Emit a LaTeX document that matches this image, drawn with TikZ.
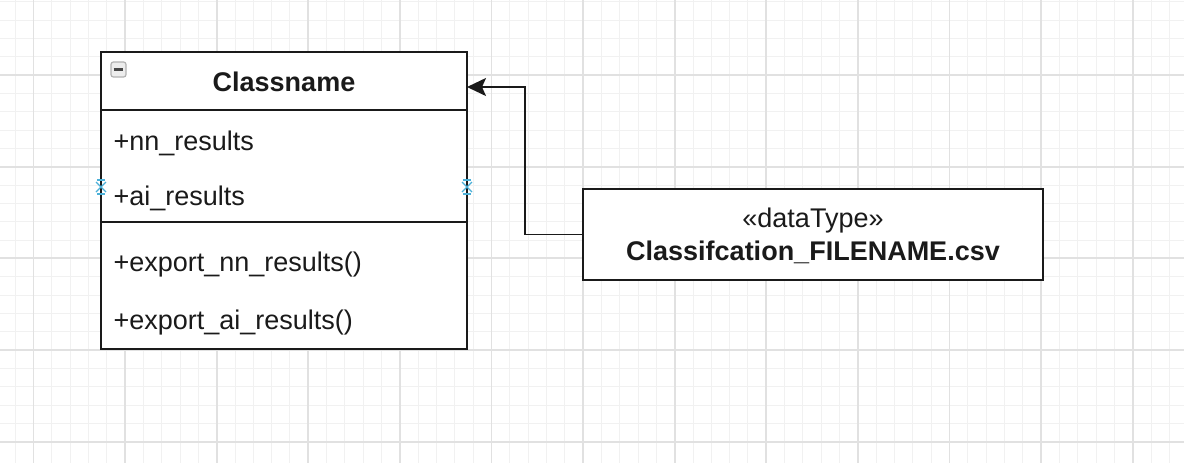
\documentclass[tikz,border=0pt]{standalone}
\usepackage{fontspec}
\setmainfont{Liberation Sans}
\usetikzlibrary{arrows.meta}
\definecolor{gridminor}{HTML}{F1F1F1}
\definecolor{gridmajor}{HTML}{E1E1E1}
\definecolor{ink}{HTML}{1A1A1A}
\definecolor{markblue}{HTML}{4BB0D8}
\begin{document}
\begin{tikzpicture}[x=0.5pt,y=-0.5pt,
  umlbox/.style={draw=ink, line width=1pt, fill=white, inner sep=0pt, outer sep=0pt, anchor=north west},
  txt/.style={inner sep=0pt, outer sep=0pt, text=ink, font=\fontsize{13.5}{16.2}\selectfont},
  boldtxt/.style={txt, font=\fontsize{13.5}{16.2}\selectfont\bfseries},
  conn/.style={draw=ink, line width=0.9pt, -{Stealth[length=9.5pt,width=9pt,inset=2pt]}},
  cpmark/.style={draw=markblue, line width=0.55pt}]
\useasboundingbox (0,0) rectangle (1184,463);
\fill[white] (0,0) rectangle (1184,463);
% grid
\foreach \k in {-1,...,63} \draw[gridminor, line width=0.5pt] ({33.5+18.32*\k},0) -- ++(0,463);
\foreach \k in {0,...,24} \draw[gridminor, line width=0.5pt] (0,{441.7-18.33*\k}) -- ++(1184,0);
\foreach \k in {0,...,12} \draw[gridmajor, line width=0.9pt] ({33.5+91.6*\k},0) -- ++(0,463);
\foreach \k in {0,...,4} \draw[gridmajor, line width=0.9pt] (0,{441.7-91.67*\k}) -- ++(1184,0);
% class box
\node[umlbox, minimum width=183pt, minimum height=29.25pt] (hdr) at (101,51.5) {};
\node[umlbox, minimum width=183pt, minimum height=55.85pt] (attrs) at (hdr.south west) {};
\node[umlbox, minimum width=183pt, minimum height=63.65pt] (meths) at (attrs.south west) {};
\node[draw=gray!60, fill=gray!14, rounded corners=1.2pt, minimum size=7.5pt, inner sep=0pt, line width=0.6pt] (icon) at (118.5,69.5) {};
\draw[ink!80, line width=1.1pt] ([xshift=1.6pt]icon.west) -- ([xshift=-1.6pt]icon.east);
\node[boldtxt, anchor=base] (cname) at (284,91.5) {Classname};
\node[txt, anchor=base west] (a1) at (113.5,150) {+nn\_results};
\node[txt, anchor=base west] (a2) at (113.5,205) {+ai\_results};
\node[txt, anchor=base west] (m1) at (113.5,271) {+export\_nn\_results()};
\node[txt, anchor=base west] (m2) at (113.5,329) {+export\_ai\_results()};
% connection point markers
\foreach \px in {101,467} {
  \draw[cpmark] (\px-5,182) -- (\px+5,192) (\px-5,192) -- (\px+5,182);
  \draw[cpmark] (\px-4,180) -- (\px+4,180) (\px-4,194) -- (\px+4,194);
}
% datatype box
\node[umlbox, minimum width=230.3pt, minimum height=45.5pt] (dt) at (582.7,189) {};
\node[txt, anchor=base] (stereo) at (813,227.3) {«dataType»};
\node[boldtxt, anchor=base] (fname) at (813,260) {Classifcation\_FILENAME.csv};
% connector
\coordinate (bend) at (525,87);
\draw[conn] (dt.west) -| (bend) -- (bend -| hdr.east);
\end{tikzpicture}
\end{document}
